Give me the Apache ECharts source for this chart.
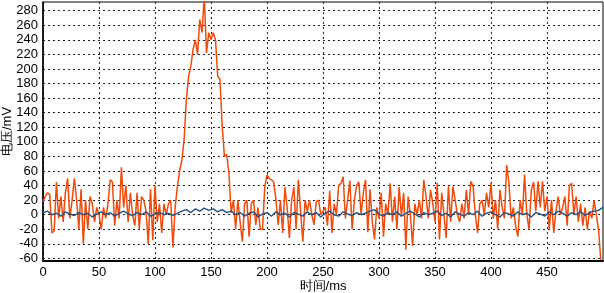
<!DOCTYPE html>
<html>
<head>
<meta charset="utf-8">
<script src="https://cdn.jsdelivr.net/npm/echarts@6/dist/echarts.min.js"></script>
<style>
html,body{margin:0;padding:0;background:#fff;}
#c{width:604px;height:293px;}
</style>
</head>
<body>
<div id="c"></div>
<script>
// ---- data ----
const xTicks = [0, 50, 100, 150, 200, 250, 300, 350, 400, 450];
const yTicks = [-60, -40, -20, 0, 20, 40, 60, 80, 100, 120, 140, 160, 180, 200, 220, 240, 260, 280];
const orangeStepMs = 2;   // sample period of the orange trace
const orangeValues = [
  18, 25, 30, 28, -25,   -22, 45, -5, 25, -10,
  30, 50, -5, 20, 50,    20, -20, 35, -40, 20,
  -20, 25, 15, -10, 10,  0, -20, 10, -5, 15,
  48, 45, -15, 20, -5,   65, 10, 40, -10, 30,
  0, -15, 30, -20, 25,   20, 5, -40, 35, -35,
  40, -10, 15, -25, 15,  0, 15, 20, -45, 10,
  39, 60, 75, 103, 158,  190, 204, 227, 240, 220,
  268, 250, 300, 222, 250, 240, 250, 240, 190, 186,
  121, 80, 83, 57, 3,    20, -20, 20, -10, -37,
  15, 20, -30, 15, 20,   -14, 10, -20, -20, 38,
  55, 50, 48, 45, 20,    -14, 20, -25, 38, 10,
  -32, 20, 38, -20, 48,  5, -37, 20, 5, 20,
  0, -14, 18, 20, 0,     5, 10, -15, 33, -25,
  15, 0, 40, 43, 52,     -5, 20, 47, -20, 20,
  40, 45, 0, 30, 48,     -24, 35, -10, -34, 10,
  -5, 30, -30, 15, 0,    43, -10, 25, -20, 38,
  -2, 30, -48, 25, 0,    -43, 15, 0, 20, -5,
  48, 25, -5, 34, 16,    -10, 44, -34, 30, 0,
  -32, 39, -10, 39, 20,  0, -10, 15, -5, 34,
  0, 46, 39, 0, -25,     15, 20, 0, 30, 10,
  44, -5, 20, -20, 34,   10, -5, 68, 44, -5,
  10, -16, -30, 20, 0,   55, 0, -20, 34, 45,
  5, 46, 10, 46, 5,      25, -20, 20, -25, 5,
  25, 0, 10, 25, -15,    40, 43, 0, 25, -10,
  15, -15, 10, -20, 5,   -5, 20, 0, -20, -62
];
const blueStepMs = 4;     // sample period of the blue trace
const blueValues = [
  3, 5, 0, 2, -2, 4, 1, -1, 3, 0,
  2, -3, 1, 4, 0, 3, -2, 2, 5, 1,
  -1, 3, 0, 4, -2, 1, 3, 0, 2, -1,
  2, 5, 7, 3, 8, 5, 9, 6, 8, 4,
  7, 3, 5, 0, 3, -2, 2, 4, -3, 1,
  3, -2, 4, 0, 2, -3, 3, 1, -2, 4,
  0, 3, -3, 2, 5, 0, -2, 4, 1, -1,
  3, 0, 2, 5, 7, 1, -2, 3, 0, 4,
  -2, 2, 5, 1, -3, 3, 0, 2, 5, -1,
  2, -3, 4, 1, -2, 3, 0, 5, -2, 2,
  4, 0, -3, 3, 1, -2, 4, 0, 2, -3,
  3, 1, -2, 4, 0, 5, 2, -2, 3, 0,
  4, -1, 3, 5, 6, 10
];
const xName = '时间/ms';
const yName = '电压/mV';

// ---- build ----
const orangeData = orangeValues.map((v, i) => [i * orangeStepMs, v]);
const blueData = blueValues.map((v, i) => [i * blueStepMs, v]);

const font = 'Liberation Sans, Arial, sans-serif';
const gridLine = { show: true, lineStyle: { color: '#222', type: [2, 3], width: 1 } };

const chart = echarts.init(document.getElementById('c'), null, { renderer: 'canvas' });
chart.setOption({
  animation: false,
  backgroundColor: '#fff',
  grid: { left: 43, right: 1, top: 2, bottom: 32, show: true, borderColor: '#000', borderWidth: 1,
          containLabel: false, outerBoundsMode: 'none' },
  xAxis: {
    type: 'value', min: 0, max: 500,
    name: xName, nameLocation: 'middle', nameGap: 19, nameMoveOverlap: false,
    nameTextStyle: { color: '#000', fontSize: 13, fontFamily: font },
    axisLine: { show: true, onZero: false, lineStyle: { color: '#000', width: 2 } },
    axisTick: { show: false, customValues: xTicks },
    axisLabel: { customValues: xTicks, color: '#000', fontSize: 13, fontFamily: font, margin: 5 },
    splitLine: gridLine
  },
  yAxis: {
    type: 'value', min: -63.5, max: 292,
    name: yName, nameLocation: 'middle', nameGap: 29, nameRotate: 90, nameMoveOverlap: false,
    nameTextStyle: { color: '#000', fontSize: 13, fontFamily: font },
    axisLine: { show: true, onZero: false, lineStyle: { color: '#000', width: 1.5 } },
    axisTick: { show: false, customValues: yTicks },
    axisLabel: { customValues: yTicks, color: '#000', fontSize: 13, fontFamily: font, margin: 5 },
    splitLine: gridLine
  },
  series: [
    {
      type: 'line', data: orangeData, showSymbol: false, symbol: 'none',
      lineStyle: { color: '#F04A0C', width: 1.5 }, clip: true, z: 2
    },
    {
      type: 'line', data: blueData, showSymbol: false, symbol: 'none',
      lineStyle: { color: '#24507F', width: 1.4 }, clip: true, z: 3
    }
  ]
});
</script>
</body>
</html>
